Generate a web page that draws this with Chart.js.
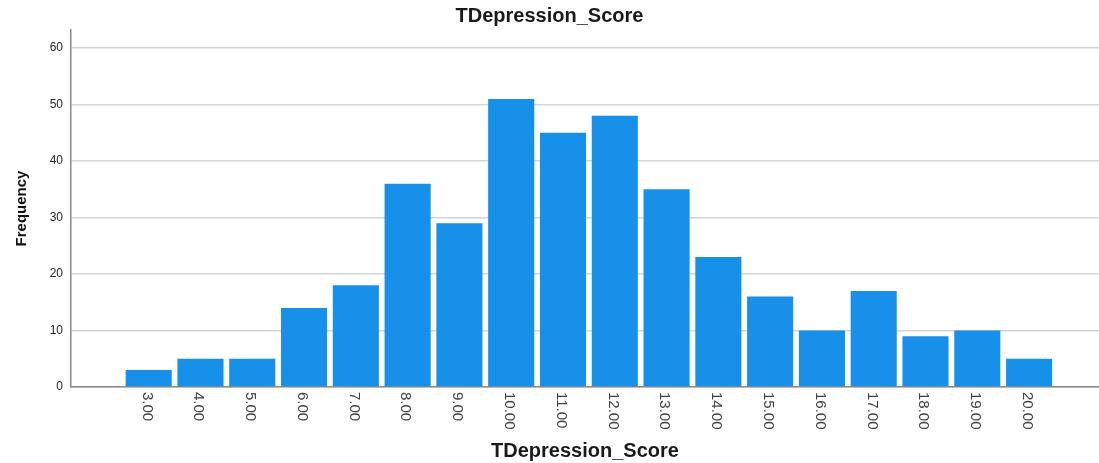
<!DOCTYPE html>
<html>
<head>
<meta charset="utf-8">
<title>TDepression_Score</title>
<script src="https://cdn.jsdelivr.net/npm/chart.js@4.4.1/dist/chart.umd.min.js"></script>
<style>
  html, body { margin: 0; padding: 0; background: #fff; }
  #wrap { width: 1099px; height: 463px; position: relative; }
</style>
</head>
<body>
<div id="wrap"><canvas id="chart"></canvas></div>
<script>
// Histogram of TDepression_Score (SPSS-style frequency chart)

const SCORES = [3, 4, 5, 6, 7, 8, 9, 10, 11, 12, 13, 14, 15, 16, 17, 18, 19, 20];
const FREQUENCIES = [3, 5, 5, 14, 18, 36, 29, 51, 45, 48, 35, 23, 16, 10, 17, 9, 10, 5];
const Y_TICKS = [0, 10, 20, 30, 40, 50, 60];

const FONT = "'Liberation Sans', Arial, sans-serif";
const BAR_BLUE = '#1690e8';

// SPSS draws the category labels turned clockwise (read top to bottom),
// Chart.js only turns them the other way, so the real ticks are kept
// transparent to reserve space and redrawn here.
const clockwiseLabels = {
  id: 'clockwiseLabels',
  afterDraw(chart) {
    const sx = chart.scales.x;
    const ctx = chart.ctx;
    ctx.save();
    ctx.font = `15px ${FONT}`;
    ctx.fillStyle = '#404040';
    ctx.textAlign = 'left';
    ctx.textBaseline = 'middle';
    SCORES.forEach(v => {
      const x = sx.getPixelForValue(v) - 2;
      ctx.save();
      ctx.translate(x, sx.top + 5);
      ctx.rotate(Math.PI / 2);
      ctx.fillText(v.toFixed(2), 0, 0);
      ctx.restore();
    });
    ctx.restore();
  }
};

new Chart(document.getElementById('chart').getContext('2d'), {
  type: 'bar',
  data: {
    datasets: [{
      label: 'Frequency',
      data: SCORES.map((s, i) => ({ x: s, y: FREQUENCIES[i] })),
      backgroundColor: BAR_BLUE,
      borderWidth: 0,
      barPercentage: 0.89,
      categoryPercentage: 1.0,
    }]
  },
  options: {
    responsive: true,
    maintainAspectRatio: false,
    animation: false,
    layout: { padding: 0 },
    plugins: {
      legend: { display: false },
      tooltip: { enabled: false },
      title: {
        display: true,
        text: 'TDepression_Score',
        color: '#1a1a1a',
        font: { family: FONT, size: 20, weight: 'bold' },
        padding: { top: 4, bottom: 2 },
      },
    },
    scales: {
      x: {
        type: 'linear',
        offset: false,
        min: 1.5,
        max: 21.35,
        afterBuildTicks: scale => { scale.ticks = SCORES.map(v => ({ value: v })); },
        afterFit: scale => { scale.height = 76; },
        grid: { display: false, drawTicks: false, offset: false },
        border: { display: true, color: '#8a8a8a', width: 1.5 },
        ticks: {
          autoSkip: false,
          minRotation: 90,
          maxRotation: 90,
          padding: 5,
          color: 'rgba(0,0,0,0)',
          font: { family: FONT, size: 15 },
          callback: v => Number(v).toFixed(2),
        },
        title: {
          display: true,
          text: 'TDepression_Score',
          color: '#1a1a1a',
          font: { family: FONT, size: 20, weight: 'bold' },
          padding: { top: 6, bottom: 0 },
        },
      },
      y: {
        min: 0,
        max: 63.2,
        afterBuildTicks: scale => { scale.ticks = Y_TICKS.map(v => ({ value: v })); },
        afterFit: scale => { scale.width = 71; },
        grid: { color: '#d4d4d4', lineWidth: 1.5, drawTicks: false },
        border: { display: true, color: '#8a8a8a', width: 1.5 },
        ticks: {
          padding: 8,
          color: '#262626',
          font: { family: FONT, size: 12 },
        },
        title: {
          display: true,
          text: 'Frequency',
          color: '#111',
          font: { family: FONT, size: 15, weight: 'bold' },
          padding: { top: 13, bottom: 0 },
        },
      },
    },
  },
  plugins: [clockwiseLabels],
});
</script>
</body>
</html>
